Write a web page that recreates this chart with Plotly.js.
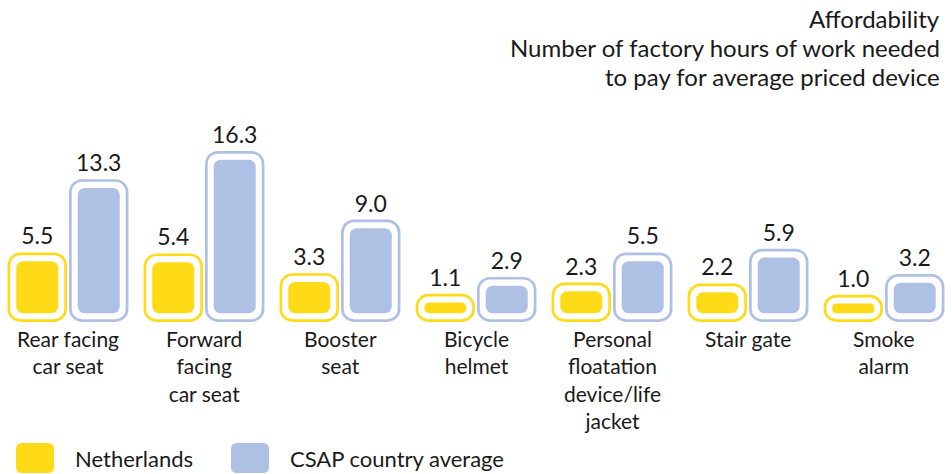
<!DOCTYPE html>
<html>
<head>
<meta charset="utf-8">
<script src="https://cdn.plot.ly/plotly-3.0.1.min.js"></script>
<style>
  html, body { margin: 0; padding: 0; background: #ffffff; }
  #chart { width: 952px; height: 474px; }
</style>
</head>
<body>
<div id="chart"></div>
<script>
// ---- data ----
const categories = ['Rear facing car seat', 'Forward facing car seat', 'Booster seat', 'Bicycle helmet',
  'Personal floatation device/life jacket', 'Stair gate', 'Smoke alarm'];
const tickLabels = ['Rear facing<br>car seat', 'Forward<br>facing<br>car seat', 'Booster<br>seat', 'Bicycle<br>helmet',
  'Personal<br>floatation<br>device/life<br>jacket', 'Stair gate', 'Smoke<br>alarm'];
const netherlands = [5.5, 5.4, 3.3, 1.1, 2.3, 2.2, 1.0];
const csapAverage = [13.3, 16.3, 9.0, 2.9, 5.5, 5.9, 3.2];
const seriesNames = ['Netherlands', 'CSAP country average'];
const titleLines = ['Affordability', 'Number of factory hours of work needed', 'to pay for average priced device'];

// ---- styles ----
const FONT = 'Lato, "Open Sans", "DejaVu Sans", sans-serif';
const TEXT = '#1a1a1a';
const YELLOW = '#FFDB17';
const BLUE = '#AEC1E5';
const W = 952, H = 474;
const M = { l: 0, r: 0, t: 139, b: 147 };
const plotH = H - M.t - M.b;
const px2paperX = p => (p - M.l) / (W - M.l - M.r);
const px2paperY = p => (H - M.b - p) / plotH;

const xIdx = categories.map((_, i) => i);
const TINY = 0.03;

function seriesTraces(values, name, color, centre) {
  const layers = [
    { pad: 0.93, w: 0.437, fill: color, r: 13, label: true },
    { pad: 0.64, w: 0.397, fill: '#ffffff', r: 10.5 },
    { pad: 0.0, w: 0.309, fill: color, r: 7.5 }
  ];
  return layers.map(L => ({
    type: 'bar', x: xIdx, width: L.w, offset: centre - L.w / 2,
    base: values.map(() => -L.pad - TINY),
    y: values.map(v => v + 2 * L.pad + TINY),
    marker: { color: L.fill, line: { width: 0 }, cornerradius: L.r },
    text: L.label ? values.map(v => v.toFixed(1)) : undefined,
    textposition: L.label ? 'outside' : 'none',
    constraintext: 'none', textangle: 0,
    textfont: { family: FONT, size: 23, color: TEXT },
    hoverinfo: 'skip', showlegend: false, name: name, cliponaxis: false
  }));
}

const CENTRE = 0.226;
const data = [].concat(
  seriesTraces(netherlands, seriesNames[0], YELLOW, -CENTRE),
  seriesTraces(csapAverage, seriesNames[1], BLUE, CENTRE)
);

function roundedRectPath(w, h, r) {
  const x0 = -w / 2, x1 = w / 2, y0 = -h / 2, y1 = h / 2;
  return `M ${x0 + r},${y0} L ${x1 - r},${y0} Q ${x1},${y0} ${x1},${y0 + r} L ${x1},${y1 - r} Q ${x1},${y1} ${x1 - r},${y1} ` +
         `L ${x0 + r},${y1} Q ${x0},${y1} ${x0},${y1 - r} L ${x0},${y0 + r} Q ${x0},${y0} ${x0 + r},${y0} Z`;
}

const legendItems = [
  { name: seriesNames[0], color: YELLOW, cx: 35, tx: 73 },
  { name: seriesNames[1], color: BLUE, cx: 250, tx: 288 }
];
const legendY = 458;

const shapes = legendItems.map(it => ({
  type: 'path', xref: 'paper', yref: 'paper', xsizemode: 'pixel', ysizemode: 'pixel',
  xanchor: px2paperX(it.cx), yanchor: px2paperY(legendY),
  path: roundedRectPath(38, 30, 6), fillcolor: it.color, line: { width: 0 }
}));

const annotations = [];
// title, one annotation per line
const titleCentres = [18, 47, 76];
titleLines.forEach((t, i) => annotations.push({
  xref: 'paper', yref: 'paper', x: px2paperX(941), y: px2paperY(titleCentres[i]),
  xanchor: 'right', yanchor: 'middle', align: 'right', showarrow: false, borderpad: 0,
  text: t, font: { family: FONT, size: 24, color: TEXT }
}));
// category labels
tickLabels.forEach((lbl, i) => annotations.push({
  xref: 'x', yref: 'paper', x: xIdx[i], y: px2paperY(324),
  xanchor: 'center', yanchor: 'top', align: 'center', showarrow: false,
  text: lbl, font: { family: FONT, size: 21, color: TEXT }
}));
// legend labels
legendItems.forEach(it => annotations.push({
  xref: 'paper', yref: 'paper', x: px2paperX(it.tx), y: px2paperY(legendY),
  xanchor: 'left', yanchor: 'middle', showarrow: false,
  text: it.name, font: { family: FONT, size: 22, color: TEXT }
}));

const layout = {
  width: W, height: H, margin: M,
  paper_bgcolor: '#ffffff', plot_bgcolor: '#ffffff',
  barmode: 'overlay', showlegend: false,
  font: { family: FONT, color: TEXT },
  xaxis: {
    range: [-0.5, categories.length - 0.5], tickmode: 'array', tickvals: xIdx,
    showticklabels: false, showgrid: false, zeroline: false, showline: false, ticks: '', fixedrange: true
  },
  yaxis: { range: [-1.5, 18.5], visible: false, fixedrange: true },
  shapes: shapes,
  annotations: annotations
};

Plotly.newPlot('chart', data, layout, { staticPlot: true, displayModeBar: false });
</script>
</body>
</html>
